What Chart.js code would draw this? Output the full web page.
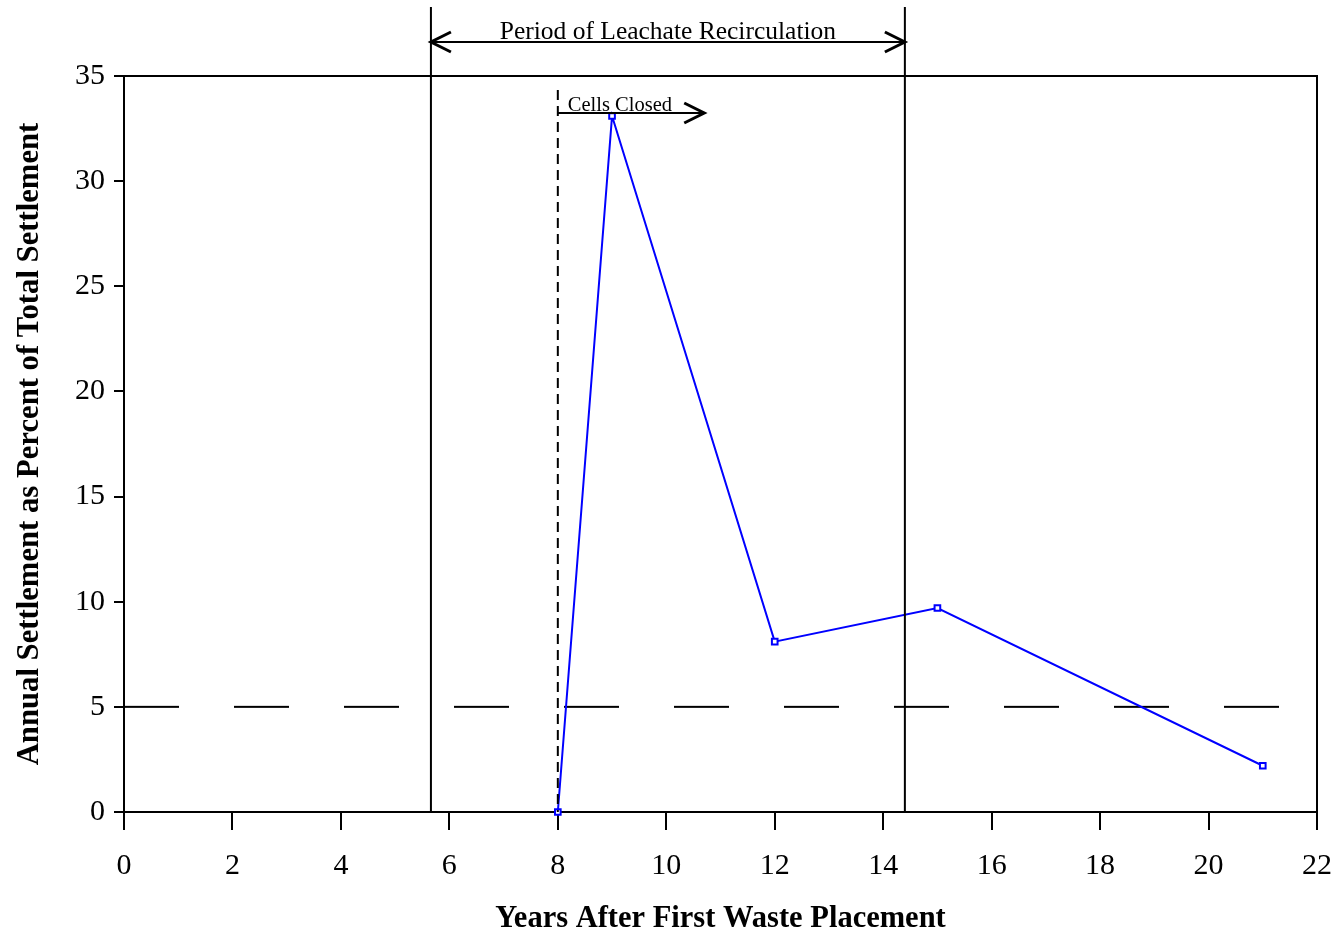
<!DOCTYPE html>
<html>
<head>
<meta charset="utf-8">
<script src="https://cdn.jsdelivr.net/npm/chart.js@4/dist/chart.umd.min.js"></script>
<style>
  html, body { margin: 0; padding: 0; background: #fff; }
  #wrap { width: 1337px; height: 934px; }
</style>
</head>
<body>
<div id="wrap"><canvas id="chart"></canvas></div>
<script>
// Datos
const anios = [8, 9, 12, 15, 21];
const asentamiento = [0, 33.1, 8.1, 9.7, 2.2];

// Línea de referencia del 5 %
const referenciaX = [0, 21.3];
const referenciaY = [5, 5];

// Período de recirculación y cierre de celdas (años)
const recircInicio = 5.66;
const recircFin = 14.4;
const celdasCerradas = 8;
const flechaCeldasFin = 10.7;

const ticksX = [0, 2, 4, 6, 8, 10, 12, 14, 16, 18, 20, 22];
const ticksY = [0, 5, 10, 15, 20, 25, 30, 35];

const SERIF = '"Liberation Serif", "Times New Roman", serif';

/** Dibuja una punta de flecha abierta (chevron) */
function punta(ctx, x, y, dir) {
  ctx.save();
  ctx.lineWidth = 3;
  ctx.beginPath();
  ctx.moveTo(x - dir * 20, y - 10);
  ctx.lineTo(x, y);
  ctx.lineTo(x - dir * 20, y + 10);
  ctx.stroke();
  ctx.restore();
}

/** Anotaciones: marco, líneas verticales, flechas y textos */
const anotaciones = {
  id: 'anotaciones',
  afterDatasetsDraw(chart) {
    const { ctx, chartArea: a, scales } = chart;
    const xs = scales.x;
    ctx.save();
    ctx.strokeStyle = '#000';
    ctx.fillStyle = '#000';
    ctx.lineWidth = 2;

    // marco superior y derecho
    ctx.beginPath();
    ctx.moveTo(a.left, a.top);
    ctx.lineTo(a.right, a.top);
    ctx.lineTo(a.right, a.bottom);
    ctx.stroke();

    // límites del período de recirculación
    const x1 = xs.getPixelForValue(recircInicio);
    const x2 = xs.getPixelForValue(recircFin);
    ctx.beginPath();
    ctx.moveTo(x1, 7); ctx.lineTo(x1, a.bottom);
    ctx.moveTo(x2, 7); ctx.lineTo(x2, a.bottom);
    ctx.stroke();

    // flecha doble
    const yF = 42;
    ctx.beginPath();
    ctx.moveTo(x1, yF); ctx.lineTo(x2, yF);
    ctx.stroke();
    punta(ctx, x1, yF, -1);
    punta(ctx, x2, yF, 1);

    ctx.font = '25.5px ' + SERIF;
    ctx.textAlign = 'center';
    ctx.textBaseline = 'alphabetic';
    ctx.fillText('Period of Leachate Recirculation', (x1 + x2) / 2, 39);

    // cierre de celdas (línea discontinua)
    const xc = xs.getPixelForValue(celdasCerradas);
    ctx.setLineDash([10, 6]);
    ctx.beginPath();
    ctx.moveTo(xc, 90); ctx.lineTo(xc, a.bottom);
    ctx.stroke();
    ctx.setLineDash([]);

    const xe = xs.getPixelForValue(flechaCeldasFin);
    const yC = 113;
    ctx.beginPath();
    ctx.moveTo(xc, yC); ctx.lineTo(xe, yC);
    ctx.stroke();
    punta(ctx, xe, yC, 1);

    ctx.font = '20.5px ' + SERIF;
    ctx.textAlign = 'left';
    ctx.fillText('Cells Closed', xc + 10, 111);
    ctx.restore();
  }
};

new Chart(document.getElementById('chart'), {
  type: 'scatter',
  data: {
    datasets: [
      {
        label: 'Asentamiento anual',
        data: anios.map((x, i) => ({ x, y: asentamiento[i] })),
        showLine: true,
        borderColor: '#0000ff',
        borderWidth: 2,
        pointStyle: 'rect',
        pointRadius: 4,
        pointBorderWidth: 2,
        pointBorderColor: '#0000ff',
        pointBackgroundColor: '#ffffff',
        clip: false,
      },
      {
        label: 'Referencia 5%',
        data: referenciaX.map((x, i) => ({ x, y: referenciaY[i] })),
        showLine: true,
        borderColor: '#000',
        borderWidth: 2,
        borderDash: [55, 55],
        pointRadius: 0,
      },
    ],
  },
  options: {
    responsive: true,
    maintainAspectRatio: false,
    animation: false,
    layout: { padding: { top: 76, right: 20, left: 0, bottom: 0 } },
    plugins: { legend: { display: false }, tooltip: { enabled: false } },
    scales: {
      x: {
        type: 'linear',
        min: 0, max: 22,
        afterBuildTicks: s => { s.ticks = ticksX.map(v => ({ value: v })); },
        afterFit: s => { s.height = 122; s.paddingLeft = 0; s.paddingRight = 0; },
        border: { color: '#000', width: 2 },
        grid: { drawOnChartArea: false, drawTicks: true, tickLength: 18, color: '#000', lineWidth: 2 },
        ticks: { color: '#000', font: { family: SERIF, size: 30 }, padding: 18, maxRotation: 0 },
        title: {
          display: true,
          text: 'Years After First Waste Placement',
          color: '#000',
          font: { family: SERIF, size: 30.5, weight: 'bold' },
          padding: { top: 0, bottom: -3 },
        },
      },
      y: {
        min: 0, max: 35,
        afterBuildTicks: s => { s.ticks = ticksY.map(v => ({ value: v })); },
        afterFit: s => { s.width = 124; s.paddingTop = 0; s.paddingBottom = 0; },
        border: { color: '#000', width: 2 },
        grid: { drawOnChartArea: false, drawTicks: true, tickLength: 10, color: '#000', lineWidth: 2 },
        ticks: { color: '#000', font: { family: SERIF, size: 30 }, padding: 9 },
        title: {
          display: true,
          text: 'Annual Settlement as Percent of Total Settlement',
          color: '#000',
          font: { family: SERIF, size: 30.7, weight: 'bold' },
          padding: { top: 12, bottom: 0 },
        },
      },
    },
  },
  plugins: [anotaciones],
});
</script>
</body>
</html>
